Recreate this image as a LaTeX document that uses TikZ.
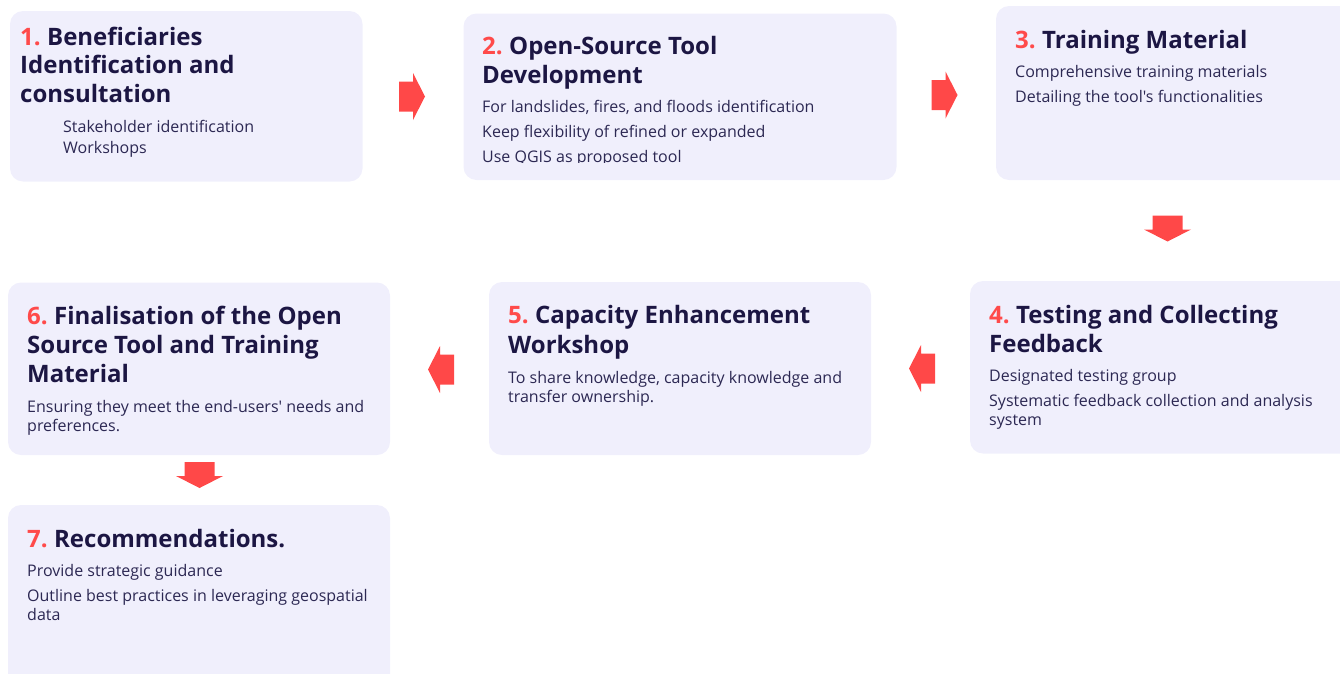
\documentclass[tikz,border=0pt]{standalone}
\usepackage{fontspec}
\setmainfont{Open Sans}[Ligatures=TeXOff]
\definecolor{boxfill}{HTML}{F0EFFC}
\definecolor{titlec}{HTML}{1C1643}
\definecolor{bodyc}{HTML}{2C2853}
\definecolor{numred}{HTML}{FF4A4A}
\definecolor{arrowred}{HTML}{FF4848}
\tikzset{
  stepbox/.style={fill=boxfill, draw=none, rounded corners=13pt},
  ttl/.style={anchor=base west, inner sep=0pt, text=titlec,
    font=\fontsize{24}{29}\selectfont\bfseries},
  txt/.style={anchor=base west, inner sep=0pt, text=bodyc,
    font=\fontsize{16}{20}\selectfont},
  blockarrow/.pic={
    \fill[arrowred] (-13,-15) -- (1,-15) -- (1,-23.5) -- (13,0)
      -- (1,23.5) -- (1,15) -- (-13,15) -- cycle;
  }
}
% step number in red, followed by a fixed gap
\newcommand{\num}[1]{\textcolor{numred}{#1}\hspace{6.4pt}}
\begin{document}
\begin{tikzpicture}[x=1pt,y=-1pt]
\useasboundingbox (0,0) rectangle (1340,673);
\clip (0,0) rectangle (1340,673);

% step boxes
\path[stepbox] (10,11) rectangle (362.5,181.5);
\coordinate (b1) at (10,11);
\path[stepbox] (463.5,13.5) rectangle (896.5,180);
\coordinate (b2) at (463.5,13.5);
\path[stepbox] (996,6) rectangle (1365,180);
\coordinate (b3) at (996,6);
\path[stepbox] (970,281) rectangle (1365,453.5);
\coordinate (b4) at (970,281);
\path[stepbox] (489,282) rectangle (871,455);
\coordinate (b5) at (489,282);
\path[stepbox] (8,282.5) rectangle (390,455);
\coordinate (b6) at (8,282.5);
\path[stepbox] (8,505) rectangle (390,695);
\coordinate (b7) at (8,505);

% 1
\node[ttl] (t1a) at (20,45) {\num{1.}Beneficiaries};
\node[ttl] (t1b) at (20,73.5) {Identification and};
\node[ttl] (t1c) at (20,102) {consultation};
\node[txt] (d1a) at (63,132) {Stakeholder identification};
\node[txt] (d1b) at (63,153.5) {Workshops};

% 2
\node[ttl] (t2a) at (482,54) {\num{2.}Open-Source Tool};
\node[ttl] (t2b) at (482,83) {Development};
\node[txt] (d2a) at (482,112.5) {For landslides, fires, and floods identification};
\node[txt] (d2b) at (482,137.5) {Keep flexibility of refined or expanded};
\begin{scope}
  \clip (470,140) rectangle (890,162.8);
  \node[txt] (d2c) at (482,162.5) {Use QGIS as proposed tool};
\end{scope}

% 3
\node[ttl] (t3a) at (1015,48.5) {\num{3.}Training Material};
\node[txt] (d3a) at (1015,77) {Comprehensive training materials};
\node[txt] (d3b) at (1015,102) {Detailing the tool's functionalities};

% 4
\node[ttl] (t4a) at (989,323.5) {\num{4.}Testing and Collecting};
\node[ttl] (t4b) at (989,352) {Feedback};
\node[txt] (d4a) at (989,381.5) {Designated testing group};
\node[txt] (d4b) at (989,406) {Systematic feedback collection and analysis};
\node[txt] (d4c) at (989,425) {system};

% 5
\node[ttl] (t5a) at (508,323.5) {\num{5.}Capacity Enhancement};
\node[ttl] (t5b) at (508,353) {Workshop};
\node[txt] (d5a) at (508,383) {To share knowledge, capacity knowledge and};
\node[txt] (d5b) at (508,402) {transfer ownership.};

% 6
\node[ttl] (t6a) at (27,324) {\num{6.}Finalisation of the Open};
\node[ttl] (t6b) at (27,353) {Source Tool and Training};
\node[ttl] (t6c) at (27,382) {Material};
\node[txt] (d6a) at (27,412.5) {Ensuring they meet the end-users' needs and};
\node[txt] (d6b) at (27,431.5) {preferences.};

% 7
\node[ttl] (t7a) at (27,547) {\num{7.}Recommendations.};
\node[txt] (d7a) at (27,576) {Provide strategic guidance};
\node[txt] (d7b) at (27,601) {Outline best practices in leveraging geospatial};
\node[txt] (d7c) at (27,620) {data};

% flow arrows
\pic at (412,96.5) {blockarrow};
\pic at (944.5,95) {blockarrow};
\pic[rotate=-90] at (1167.5,228.5) {blockarrow};
\pic[rotate=180] at (922,368.5) {blockarrow};
\pic[rotate=180] at (441,369.5) {blockarrow};
\pic[rotate=-90] at (199.5,475) {blockarrow};
\end{tikzpicture}
\end{document}
